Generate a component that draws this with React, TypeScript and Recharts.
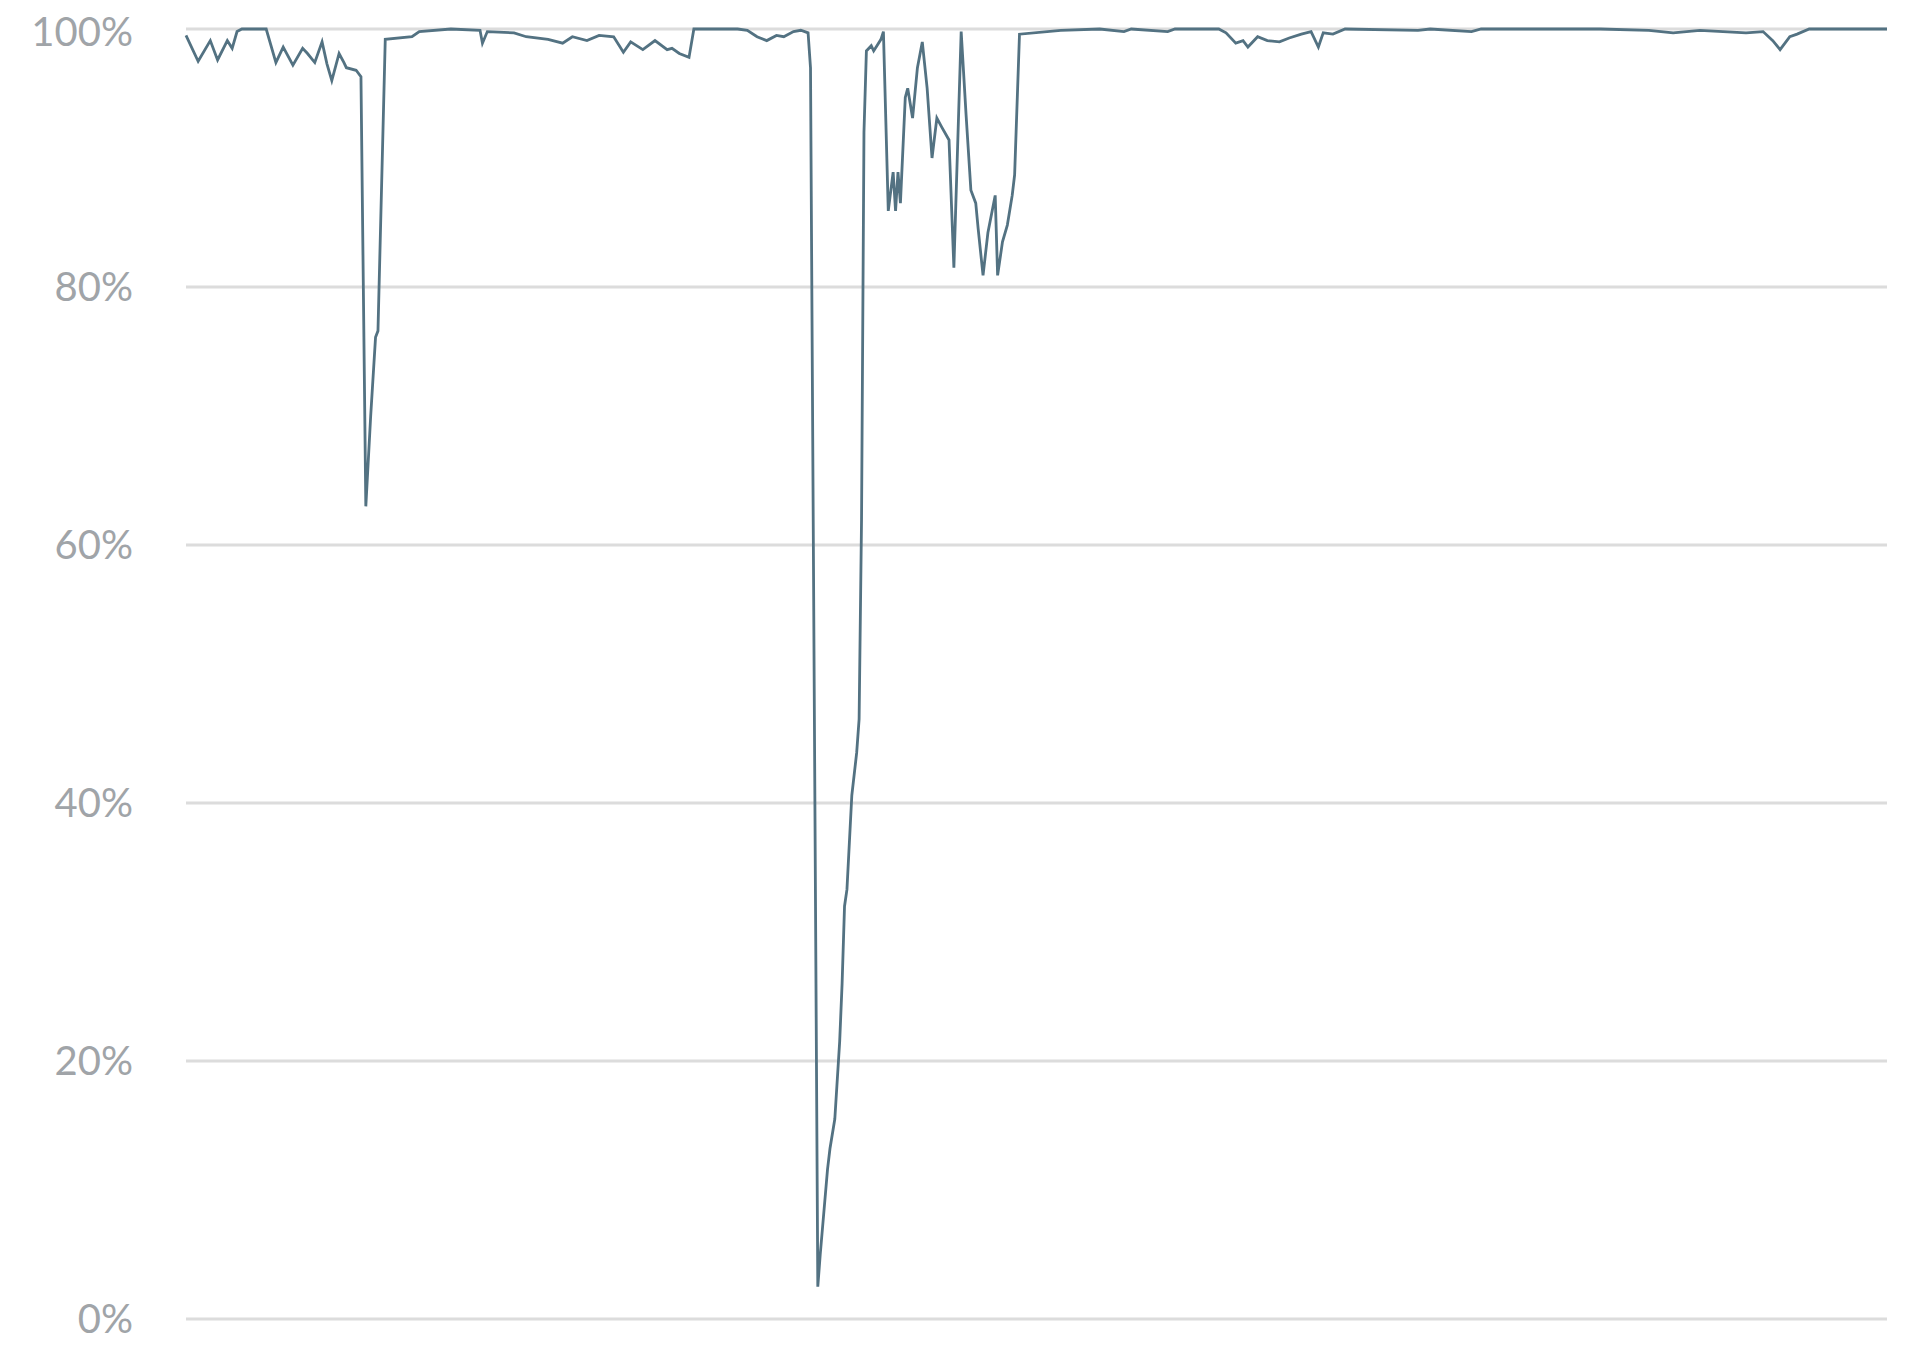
import { CartesianGrid, Line, LineChart, XAxis, YAxis } from "recharts";

// day index along the period (0..700) and the matching availability in %
const days = [
  0, 5, 10, 13, 17, 19, 21, 23, 33, 37, 40, 44, 48, 50, 53, 56, 58, 60, 63, 65, 66, 70, 72,
  74, 76, 78, 79, 82, 93, 96, 109, 121, 122, 124, 135, 140, 149, 155, 159, 165, 170, 176, 180,
  183, 188, 193, 198, 200, 203, 207, 209, 227, 231, 235, 239, 243, 246, 250, 253, 256, 257,
  260, 261, 264, 265, 267, 269, 270, 271, 272, 274, 276, 277, 278, 279, 280, 282, 283, 286,
  287, 289, 291, 292, 293, 294, 296, 297, 299, 301, 303, 305, 307, 309, 311, 314, 316, 319,
  321, 323, 325, 326, 328, 330, 333, 334, 336, 338, 340, 341, 343, 360, 376, 386, 389, 404,
  407, 425, 428, 432, 435, 437, 441, 445, 450, 454, 459, 463, 466, 468, 472, 477, 507, 512,
  529, 533, 582, 602, 612, 623, 642, 649, 653, 656, 660, 663, 668, 700,
];

const uptime = [
  99.5, 97.5, 99.1, 97.6, 99.1, 98.5, 99.8, 100, 100, 97.4, 98.6, 97.2, 98.5, 98.1, 97.4, 99.0,
  97.3, 96.0, 98.1, 97.4, 97.0, 96.8, 96.3,
  63.0, 70.0, 76.1, 76.6, 99.2, 99.4, 99.8, 100, 99.9, 98.9, 99.8, 99.7, 99.4, 99.2, 98.9, 99.4,
  99.1, 99.5, 99.4, 98.2, 99.0, 98.4, 99.1, 98.4, 98.5, 98.1, 97.8, 100, 100, 99.9, 99.4, 99.1,
  99.5, 99.4, 99.8, 99.9, 99.7, 97.0,
  2.5, 5.0, 11.6, 13.2, 15.5, 21.5, 26.0, 32.0, 33.3, 40.6, 43.9, 46.5, 62.0, 92.0, 98.3, 98.7,
  98.3, 99.2, 99.8, 85.9, 88.9, 85.9, 88.9, 86.5, 94.7, 95.4, 93.1, 97.0, 99.0, 95.4, 90.0, 93.1,
  92.4, 91.4, 81.5, 99.8, 93.4, 87.5, 86.5, 84.5, 80.9, 84.2, 87.1, 80.9, 83.5, 84.8, 87.1, 88.7,
  99.6, 99.9, 100, 99.8, 100, 99.8, 100, 100, 99.7, 98.9, 99.1, 98.6, 99.4, 99.1, 99.0, 99.3,
  99.6, 99.8, 98.6, 99.7, 99.6, 100, 99.9, 100, 99.8, 100, 100, 99.9, 99.7, 99.9, 99.7, 99.8,
  99.1, 98.4, 99.4, 99.6, 100, 100,
];

const yTicks = [0, 20, 40, 60, 80, 100];

const data = days.map((day, i) => ({ day, value: uptime[i] }));

export default function App() {
  return (
    <div style={{ width: 1900, height: 1340, background: "#fff" }}>
      <LineChart width={1900} height={1340} data={data} margin={{ top: 21, right: 21, bottom: 29, left: 0 }}>
        <CartesianGrid vertical={false} stroke="#dcdcdc" strokeWidth={3} />
        <XAxis type="number" dataKey="day" domain={[0, 700]} hide />
        <YAxis
          domain={[0, 100]}
          ticks={yTicks}
          width={178}
          axisLine={false}
          tickLine={false}
          tickMargin={47}
          tickFormatter={(v) => `${v}%`}
          tick={{ fontSize: 40, fill: "#a0a4a8", fontFamily: "Lato" }}
        />
        <Line
          type="linear"
          dataKey="value"
          stroke="#537282"
          strokeWidth={2.8}
          dot={false}
          isAnimationActive={false}
        />
      </LineChart>
    </div>
  );
}
